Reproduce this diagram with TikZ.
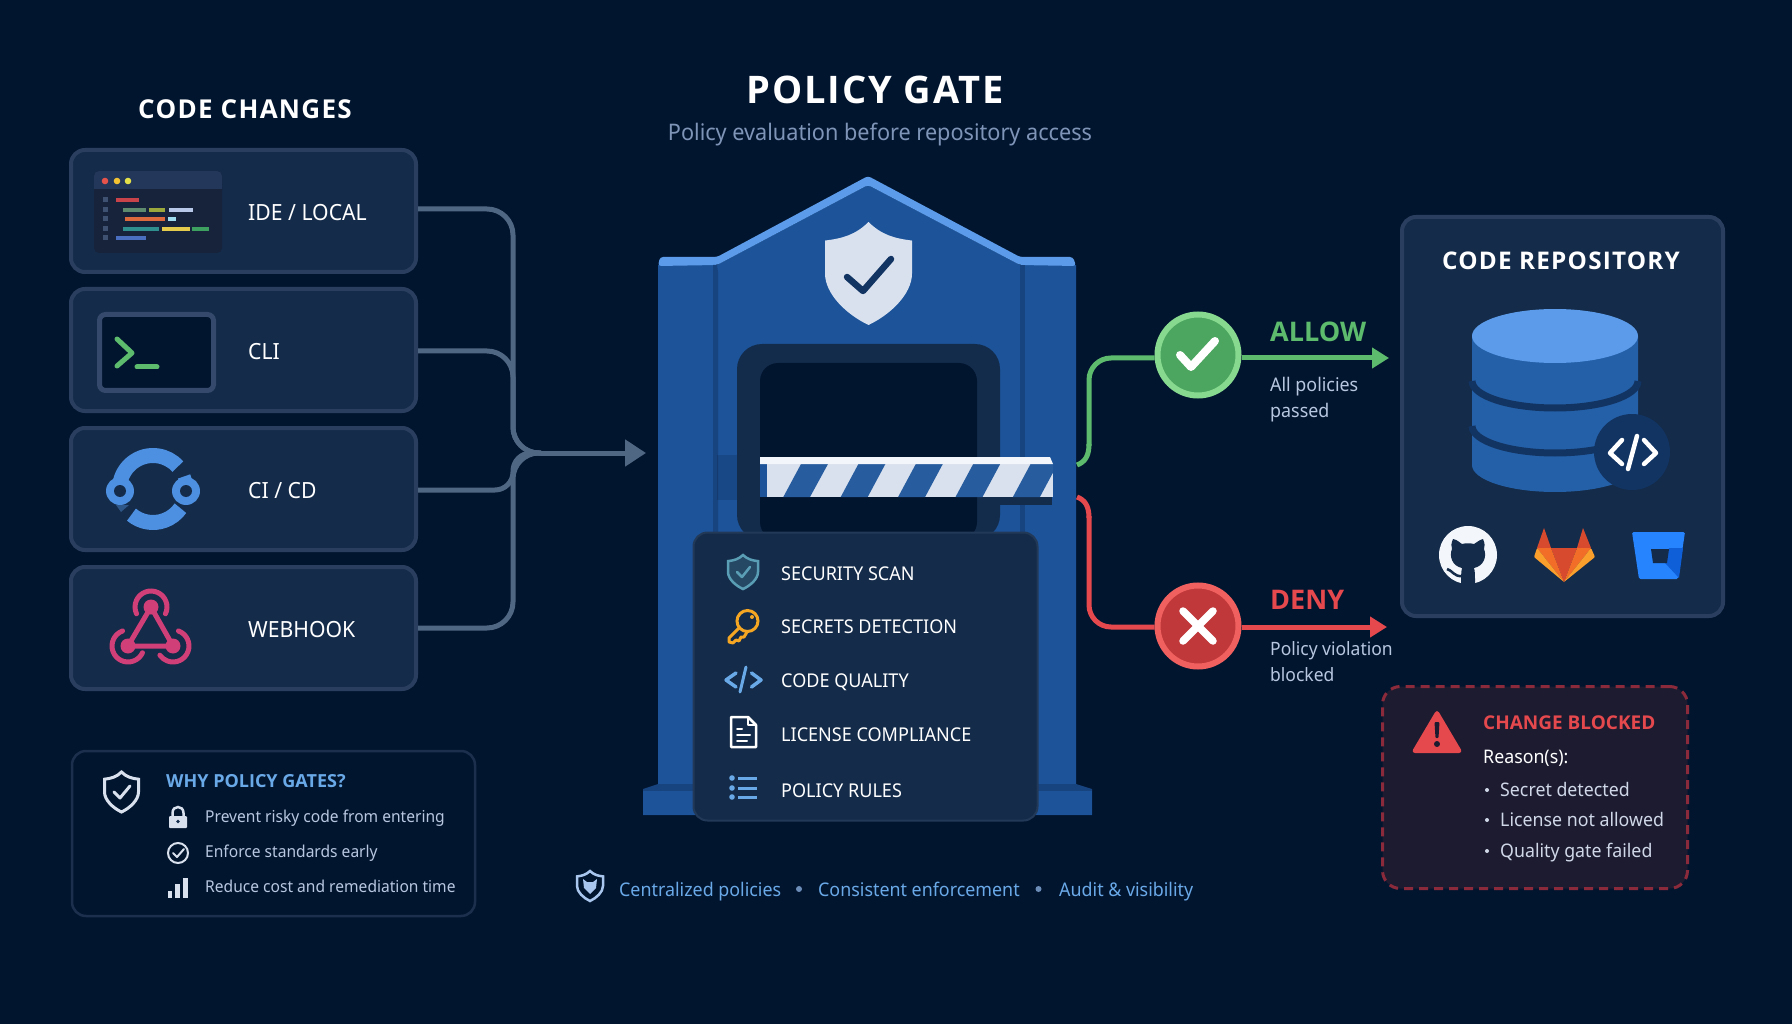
\documentclass[tikz,border=0pt]{standalone}
\usepackage{fontspec}
\setsansfont{Noto Sans}[FakeStretch=.95]
\newfontfamily\boldsans{Open Sans}
\newfontfamily\titlesans{Open Sans}[LetterSpace=5]
\usetikzlibrary{arrows.meta}
\definecolor{pagebg}{HTML}{02152F}
\definecolor{cardfill}{HTML}{142B49}
\definecolor{cardedge}{HTML}{2A3F5F}
\definecolor{feedline}{HTML}{506783}
\definecolor{gatebody}{HTML}{1C5399}
\definecolor{gatedark}{HTML}{17437F}
\definecolor{gatelight}{HTML}{5B9BEA}
\definecolor{frameblue}{HTML}{132C4C}
\definecolor{paper}{HTML}{D9E1EE}
\definecolor{navy}{HTML}{123463}
\definecolor{okline}{HTML}{5DBB6E}
\definecolor{okring}{HTML}{87D98F}
\definecolor{okfill}{HTML}{4CA65F}
\definecolor{noline}{HTML}{E5484D}
\definecolor{noring}{HTML}{F0605F}
\definecolor{nofill}{HTML}{C0383A}
\definecolor{softtext}{HTML}{B8C7E0}
\definecolor{mutetext}{HTML}{7F95B8}
\definecolor{linkblue}{HTML}{6AA9E8}
\definecolor{pink}{HTML}{D13F78}
\definecolor{cicdblue}{HTML}{4D8FE0}
\definecolor{keyorange}{HTML}{F5A623}
\definecolor{teal}{HTML}{5A9EB5}
\definecolor{idedark}{HTML}{16233B}
\definecolor{idebar}{HTML}{22375A}
\definecolor{idered}{HTML}{E5534B}
\definecolor{ideamber}{HTML}{F2C233}
\definecolor{idelime}{HTML}{E4E04A}
\definecolor{idenum}{HTML}{3E5170}
\definecolor{barred}{HTML}{C8444A}
\definecolor{barsage}{HTML}{5E8A6E}
\definecolor{barolive}{HTML}{9AA83C}
\definecolor{barpale}{HTML}{B8C8E8}
\definecolor{barorange}{HTML}{DC6A3C}
\definecolor{barcyan}{HTML}{A0DCF0}
\definecolor{barteal}{HTML}{2F8F8F}
\definecolor{baryellow}{HTML}{E5CB4B}
\definecolor{bargreen}{HTML}{3DA060}
\definecolor{barblue}{HTML}{4A6FC0}
\definecolor{termedge}{HTML}{34496B}
\definecolor{footblue}{HTML}{A9C7EE}
\definecolor{footdot}{HTML}{6C8DB8}
\definecolor{barwhite}{HTML}{F3F6FB}
\definecolor{diskblue}{HTML}{2460A8}
\definecolor{labred}{HTML}{D84A2E}
\definecolor{laborange}{HTML}{F26D28}
\definecolor{labyellow}{HTML}{FB9F2C}
\definecolor{bucket}{HTML}{2684FF}
\definecolor{bucketdark}{HTML}{0F5FD8}
\definecolor{dashred}{HTML}{8B2A3A}
\definecolor{blockfill}{HTML}{1C1B30}
\definecolor{reasontext}{HTML}{D0D8E8}
\tikzset{
  every picture/.style={x=1pt, y=-1pt},
  shield/.pic={
    \path[pic actions] (0,-1) .. controls (.3,-.75) and (.6,-.68) .. (1,-.64)
      -- (1,0) .. controls (1,.4) and (.5,.8) .. (0,1)
      .. controls (-.5,.8) and (-1,.4) .. (-1,0) -- (-1,-.64)
      .. controls (-.6,-.68) and (-.3,-.75) .. (0,-1) -- cycle;
  }}

\begin{document}
\begin{tikzpicture}[
    tx/.style={inner sep=0pt, anchor=west, text=white,
      font={\sffamily\fontsize{#1}{#1}\selectfont},
      text height=.714*#1 pt, text depth=0pt},
    btx/.style={inner sep=0pt, anchor=west, text=white,
      font={\boldsans\bfseries\fontsize{#1}{#1}\selectfont},
      text height=.714*#1 pt, text depth=0pt},
    ttx/.style={inner sep=0pt, anchor=center, text=white,
      font={\titlesans\bfseries\fontsize{#1}{#1}\selectfont},
      text height=.714*#1 pt, text depth=0pt},
    card/.style={draw=cardedge, fill=cardfill, line width=4pt,
      rounded corners=14pt, minimum width=345pt, minimum height=122pt},
    feed/.style={draw=feedline, line width=5pt, rounded corners=26pt},
    feedtip/.style={draw=feedline, line width=5pt,
      -{Triangle[length=21pt, width=26pt]}},
    okpath/.style={draw=okline, line width=5pt, rounded corners=22pt},
    nopath/.style={draw=noline, line width=5pt, rounded corners=22pt},
    verdict/.style={circle, line width=6pt, minimum size=81pt, inner sep=0pt},
    codebar/.style={line width=4pt},
    stroke/.style={line width=#1, line cap=round, line join=round},
    stripe/.style={fill=gatebody!95!white}]

  \fill[pagebg] (0,0) rectangle (1792,1024);
  \useasboundingbox (0,0) rectangle (1792,1024);

  % titles
  \node[ttx=26] (changestitle) at (245,109) {CODE CHANGES};
  \node[ttx=38] (gatetitle) at (875,90) {POLICY GATE};
  \node[tx=22.8, anchor=center, text=mutetext] (gatesub) at (880,132.5)
    {Policy evaluation before repository access};

  % sources
  \node[card] (ide) at (243.5,211) {};
  \node[card] (cli) at (243.5,350) {};
  \node[card] (cicd) at (243.5,489) {};
  \node[card] (hook) at (243.5,628) {};
  \node[tx=22.3] (idetext) at (248,213) {IDE / LOCAL};
  \node[tx=22.3] (clitext) at (248,352) {CLI};
  \node[tx=22.3] (cicdtext) at (248,491) {CI / CD};
  \node[tx=22.3] (hooktext) at (248,630) {WEBHOOK};

  % ide window
  \fill[fill=idedark, rounded corners=5pt] (94,171) rectangle (222,253);
  \fill[fill=idebar, rounded corners=5pt] (94,171) rectangle (222,189);
  \fill[fill=idebar] (94,181) rectangle (222,189);
  \fill[idered] (105,181) circle[radius=3.3pt];
  \fill[ideamber] (117,181) circle[radius=3.3pt];
  \fill[idelime] (128,181) circle[radius=3.3pt];
  \fill[idenum] (103,197.5) rectangle (108,202.5);
  \fill[idenum] (103,207.5) rectangle (108,212.5);
  \fill[idenum] (103,216.5) rectangle (108,221.5);
  \fill[idenum] (103,226.5) rectangle (108,231.5);
  \fill[idenum] (103,235.5) rectangle (108,240.5);
  \draw[codebar, barred] (116,200) -- (139,200);
  \draw[codebar, barsage] (123,210) -- (146,210);
  \draw[codebar, barolive] (149,210) -- (165,210);
  \draw[codebar, barpale] (169,210) -- (193,210);
  \draw[codebar, barorange] (125,219) -- (165,219);
  \draw[codebar, barcyan] (168,219) -- (176,219);
  \draw[codebar, barteal] (123,229) -- (159,229);
  \draw[codebar, baryellow] (162,229) -- (190,229);
  \draw[codebar, bargreen] (192,229) -- (209,229);
  \draw[codebar, barblue] (116,238) -- (146,238);

  % terminal
  \draw[draw=termedge, fill=pagebg, line width=5pt, rounded corners=6pt] (99.5,314.5) rectangle (213.5,390.5);
  \draw[okline, stroke=5pt] (117,339) -- (132,353) -- (117,366);
  \draw[okline, stroke=5pt] (137,367) -- (157,367);

  % ci/cd loop
  \draw[cicdblue, line width=15pt] (153,489) ++(172:33.5pt) arc (172:42:33.5pt);
  \draw[cicdblue, line width=15pt] (153,489) ++(230:33.5pt) arc (230:325:33.5pt);
  \draw[cicdblue, line width=13pt] (153,489) ++(22:33.5pt) arc (22:0:33.5pt);
  \fill[cicdblue] (120,491) circle[radius=14pt];
  \fill[cicdblue] (186,491) circle[radius=14pt];
  \fill[cardfill] (120,491) circle[radius=6pt];
  \fill[cardfill] (186,491) circle[radius=6pt];
  \fill[cicdblue!60!black] (116,505) -- (129,505) -- (121,512) -- cycle;

  % webhook
  \draw[pink, stroke=5pt] (151,607) -- (128,646) -- (173,646) -- (151,607);
  \fill[pink] (151,607) circle[radius=7.5pt];
  \fill[pink] (128,646) circle[radius=7.5pt];
  \fill[pink] (173,646) circle[radius=7.5pt];
  \draw[pink, line width=5pt, line cap=round] (151,607) ++(-25:16pt) arc (-25:205:16pt);
  \draw[pink, line width=5pt, line cap=round] (128,646) ++(110:16pt) arc (110:335:16pt);
  \draw[pink, line width=5pt, line cap=round] (173,646) ++(70:16pt) arc (70:-145:16pt);

  % connectors to the gate
  \coordinate (merge) at (513,453);
  \coordinate (merged) at (541,453);
  \coordinate (gatein) at (646,453);
  \draw[feed] ([yshift=2pt]ide.east) -| (merge) -- (merged);
  \draw[feed] ([yshift=-1pt]cli.east) -| (merge) -- (merged);
  \draw[feed, rounded corners=18pt] ([yshift=-1pt]cicd.east) -| (merge) -- (merged);
  \draw[feed] (hook.east) -| (merge) -- (merged);
  \draw[feedtip] (merged) -- (gatein);

  % gate
  \fill[gatebody] (658,265) -- (717,265) -- (868,185) -- (1020,265) -- (1076,265) -- (1076,788) -- (658,788) -- cycle;
  \fill[gatelight, rounded corners=3pt] (658,266) -- (660,257) -- (717,257) -- (868,176) -- (1020,257) -- (1073,257) -- (1076,266) -- (1020,265) -- (868,185) -- (717,265) -- cycle;
  \fill[gatedark] (713,265) -- (717,265) -- (718,272) -- (718,788) -- (713,788) -- cycle;
  \fill[gatedark] (1020,265) -- (1025,265) -- (1025,788) -- (1020,788) -- cycle;
  \fill[gatedark] (643,815) -- (643,789) -- (658,784) -- (1076,784) -- (1092,789) -- (1092,815) -- cycle;
  \fill[gatebody] (643,815) -- (643,791) -- (1092,791) -- (1092,815) -- cycle;
  \pic[fill=paper, xscale=43.5, yscale=51.5] at (868.5,273.5) {shield};
  \draw[navy, stroke=6.5pt] (847,277) -- (863,291) -- (891,259);

  % door and barrier
  \fill[frameblue, rounded corners=25pt] (737,540) -- (737,344) -- (1000,344) -- (1000,540) -- cycle;
  \fill[pagebg, rounded corners=18pt] (760,540) -- (760,363) -- (977,363) -- (977,540) -- cycle;
  \fill[black, opacity=.12] (717,455) rectangle (737,500);
  \fill[frameblue] (1000,497) -- (1052,497) -- (1052,505) -- (1000,505) -- cycle;
  \fill[gatebody] (760,464) rectangle (767,497);
  \fill[paper] (767,464) rectangle (1053,497);
  \begin{scope}
    \clip (767,464) rectangle (1053,497);
    \fill[stripe] (783.3,497) -- (801,464) -- (828,464) -- (810,497) -- cycle;
    \fill[stripe] (840.7,497) -- (858.4,464) -- (885.4,464) -- (867.7,497) -- cycle;
    \fill[stripe] (898.1,497) -- (915.8,464) -- (942.8,464) -- (925.1,497) -- cycle;
    \fill[stripe] (955.5,497) -- (973.2,464) -- (1000.2,464) -- (982.5,497) -- cycle;
    \fill[stripe] (1012.9,497) -- (1030.6,464) -- (1057.6,464) -- (1039.9,497) -- cycle;
  \end{scope}
  \fill[barwhite] (760,457) -- (1050,457) -- (1053,464) -- (760,464) -- cycle;

  % checks panel
  \node[card, line width=2pt, draw=cardedge!70!cardfill, minimum width=344pt, minimum height=288pt] (checks) at (865.5,676.5) {};
  \node[tx=19] (scantext) at (781,573.5) {SECURITY SCAN};
  \node[tx=19] (secrettext) at (781,627) {SECRETS DETECTION};
  \node[tx=19] (qualitytext) at (781,681) {CODE QUALITY};
  \node[tx=19] (licensetext) at (781,735) {LICENSE COMPLIANCE};
  \node[tx=19] (rulestext) at (781,790.5) {POLICY RULES};
  \pic[draw=teal, fill=teal!25!cardfill, line width=2.5pt, xscale=15, yscale=17] at (743,572) {shield};
  \draw[teal, stroke=2.5pt] (737,572) -- (742,577) -- (750,567);
  \draw[keyorange, line width=3pt] (747.5,621) circle[radius=10.5pt];
  \fill[keyorange] (752,617) circle[radius=2pt];
  \draw[keyorange, stroke=3pt] (739,628) -- (729,638) -- (729,642) -- (733,643) -- (736,640) -- (739,641) -- (741,637) -- (744,637) -- (747,632);
  \draw[linkblue, stroke=3.5pt] (736,673) -- (726,680) -- (736,687);
  \draw[linkblue, stroke=3pt] (746,667) -- (740,692);
  \draw[linkblue, stroke=3.5pt] (751.5,673) -- (761,680) -- (751.5,687);
  \draw[white, stroke=2.5pt] (731,717) -- (748,717) -- (756,725) -- (756,747) -- (731,747) -- cycle;
  \draw[white, stroke=1.5pt] (748,717) -- (748,725) -- (756,725);
  \draw[white, stroke=2pt] (737,729) -- (742,729);
  \draw[white, stroke=2pt] (737,735) -- (750,735);
  \draw[white, stroke=2pt] (737,741) -- (747,741);
  \fill[linkblue] (732,778) circle[radius=2.8pt];
  \fill[linkblue] (732,788) circle[radius=2.8pt];
  \fill[linkblue] (732,797) circle[radius=2.8pt];
  \draw[linkblue, line width=3pt] (738,778) -- (757,778);
  \draw[linkblue, line width=3pt] (738,788) -- (757,788);
  \draw[linkblue, line width=3pt] (738,797) -- (757,797);

  % footer line
  \pic[draw=footblue, fill=pagebg, line width=2.5pt, xscale=13, yscale=15] at (590,886) {shield};
  \fill[footblue] (583,879) -- (587,882) -- (593,882) -- (597,879) -- (596,888) -- (590,894) -- (584,888) -- cycle;
  \node[tx=18.8, text=linkblue] (foota) at (619,889.5) {Centralized policies};
  \node[tx=18.8, text=linkblue] (footb) at (818,889.5) {Consistent enforcement};
  \node[tx=18.8, text=linkblue] (footc) at (1059,889.5) {Audit \& visibility};
  \fill[footdot] (799,889) circle[radius=3pt];
  \fill[footdot] (1038.5,889) circle[radius=3pt];

  % why box
  \node[draw=cardedge!65!pagebg, line width=2.5pt, rounded corners=14pt, minimum width=403pt, minimum height=165pt] (why) at (273.5,833.5) {};
  \pic[draw=paper, line width=3pt, xscale=17, yscale=20] at (121.5,792) {shield};
  \draw[paper, stroke=3pt] (114,792) -- (120,798) -- (130,786);
  \node[btx=18, text=linkblue] (whytitle) at (166,781) {WHY POLICY GATES?};
  \node[tx=16.4, text=softtext] (whya) at (205,817) {Prevent risky code from entering};
  \node[tx=16.4, text=softtext] (whyb) at (205,852) {Enforce standards early};
  \node[tx=16.4, text=softtext] (whyc) at (205,887) {Reduce cost and remediation time};
  \fill[paper, rounded corners=1pt] (169,816) rectangle (187,828);
  \draw[paper, line width=2.5pt] (172.5,816) -- (172.5,813) .. controls (172.5,805) and (183.5,805) .. (183.5,813) -- (183.5,816);
  \fill[frameblue] (178,821.5) circle[radius=1.8pt];
  \draw[paper, line width=2pt] (178,853) circle[radius=10pt];
  \draw[paper, stroke=2pt] (173,853) -- (177,857) -- (184,849);
  \fill[paper] (168,891) rectangle (172,898);
  \fill[paper] (175,884) rectangle (180,898);
  \fill[paper] (183,878) rectangle (188,898);

  % verdicts
  \node[verdict, draw=okring, fill=okfill] (allow) at (1198,355) {};
  \node[verdict, draw=noring, fill=nofill] (deny) at (1198,626) {};
  \draw[white, stroke=8pt] (1180,355) -- (1191,367) -- (1215,341);
  \draw[white, stroke=7.5pt] (1183,611) -- (1213,641);
  \draw[white, stroke=7.5pt] (1213,611) -- (1183,641);
  \coordinate (allowfrom) at (1077,465);
  \coordinate (allowturn) at (1089,358);
  \coordinate (allowto) at (1389,358);
  \coordinate (denyfrom) at (1077,497);
  \coordinate (denyturn) at (1089,627);
  \coordinate (denyto) at (1387,627);
  \draw[okline, line width=5pt] (allowfrom) .. controls (1085,462) and (1089,456) .. (1089,444);
  \draw[okpath] (1089,446) -- (allowturn) -- ([yshift=-3pt]allow.west);
  \draw[noline, line width=5pt] (denyfrom) .. controls (1085,500) and (1089,506) .. (1089,518);
  \draw[nopath] (1089,516) -- (denyturn) -- ([yshift=-1pt]deny.west);
  \draw[okline, line width=5pt, -{Triangle[length=17pt, width=20pt]}] ([yshift=-3pt]allow.east) -- (allowto);
  \draw[noline, line width=5pt, -{Triangle[length=17pt, width=20pt]}] ([yshift=-1pt]deny.east) -- (denyto);
  \node[btx=27, text=okline] (allowtext) at (1270,332) {ALLOW};
  \node[tx=18.8, text=softtext] (allowa) at (1270,385) {All policies};
  \node[tx=18.8, text=softtext] (allowb) at (1270,411) {passed};
  \node[btx=27, text=noline] (denytext) at (1270,600) {DENY};
  \node[tx=18.4, text=softtext] (denya) at (1270,649) {Policy violation};
  \node[tx=18.4, text=softtext] (denyb) at (1270,675) {blocked};

  % repository
  \node[card, minimum width=321pt, minimum height=399pt] (repo) at (1562.5,416.5) {};
  \node[ttx=24.3] (repotext) at (1561,261) {CODE REPOSITORY};
  \fill[diskblue] (1472,336) -- (1472,465) arc (180:360:83pt and 27pt) -- (1638,336) -- cycle;
  \draw[navy, line width=7pt] (1472,381) arc (180:360:83pt and 27pt);
  \draw[navy, line width=7pt] (1472,426) arc (180:360:83pt and 27pt);
  \fill[gatelight] (1555,336) ellipse[x radius=83pt, y radius=27pt];
  \fill[navy] (1632,452) circle[radius=38pt];
  \draw[white, stroke=4.5pt] (1622,440) -- (1610,453) -- (1622,464);
  \draw[white, stroke=4.5pt] (1637,436) -- (1628,469);
  \draw[white, stroke=4.5pt] (1644,440) -- (1656,453) -- (1644,464);

  % github
  \fill[barwhite] (1468,555) circle[radius=29pt];
  \fill[cardfill] (1453,539) .. controls (1458,540) and (1460,543) .. (1462,544) .. controls (1466,543) and (1470,543) .. (1474,544) .. controls (1476,543) and (1479,540) .. (1483,539) .. controls (1485,544) and (1485,546) .. (1484,549) .. controls (1487,556) and (1484,566) .. (1474,568) .. controls (1475,571) and (1475,575) .. (1475,584) -- (1461,584) .. controls (1461,578) and (1461,572) .. (1462,568) .. controls (1452,566) and (1449,556) .. (1452,549) .. controls (1451,546) and (1451,544) .. (1453,539) -- cycle;
  \draw[cardfill, line width=2.5pt] (1462,576) .. controls (1454,577) and (1452,570) .. (1447,569);

  % gitlab
  \fill[labred] (1544,528) -- (1537,548) -- (1551,548) -- cycle;
  \fill[labred] (1583,528) -- (1591,548) -- (1577,548) -- cycle;
  \fill[labred] (1551,548) -- (1577,548) -- (1564,582) -- cycle;
  \fill[laborange] (1537,548) -- (1551,548) -- (1564,582) -- cycle;
  \fill[laborange] (1591,548) -- (1577,548) -- (1564,582) -- cycle;
  \fill[labyellow, rounded corners=1pt] (1537,548) -- (1534,557) -- (1564,582) -- cycle;
  \fill[labyellow, rounded corners=1pt] (1591,548) -- (1595,557) -- (1564,582) -- cycle;

  % bitbucket
  \fill[bucket, rounded corners=1.5pt] (1632,532) -- (1685,532) -- (1678,579) -- (1639,579) -- cycle;
  \fill[bucketdark] (1669,548) -- (1683,548) -- (1679,578) -- (1665,563) -- cycle;
  \fill[cardfill] (1651,549) -- (1669,549) -- (1667,563) -- (1653,563) -- cycle;

  % blocked box
  \node[draw=dashred, fill=blockfill, dash pattern=on 9pt off 6pt, line width=3pt, rounded corners=18pt, minimum width=305pt, minimum height=202pt] (blocked) at (1535,787.5) {};
  \fill[noline, rounded corners=4pt] (1437,709) -- (1463,753) -- (1411,753) -- cycle;
  \fill[blockfill, rounded corners=1pt] (1434.5,722) -- (1439.5,722) -- (1438.5,738) -- (1435.5,738) -- cycle;
  \fill[blockfill] (1437,744) circle[radius=3pt];
  \node[btx=19, text=noline] (blockedtext) at (1483,723) {CHANGE BLOCKED};
  \node[tx=18.7] (reasons) at (1483,757) {Reason(s):};
  \node[tx=18.7, text=reasontext] (reasona) at (1500,790) {Secret detected};
  \node[tx=18.7, text=reasontext] (reasonb) at (1500,820) {License not allowed};
  \node[tx=18.7, text=reasontext] (reasonc) at (1500,851) {Quality gate failed};
  \fill[reasontext] (1487,790) circle[radius=2pt];
  \fill[reasontext] (1487,820) circle[radius=2pt];
  \fill[reasontext] (1487,851) circle[radius=2pt];
\end{tikzpicture}
\end{document}
